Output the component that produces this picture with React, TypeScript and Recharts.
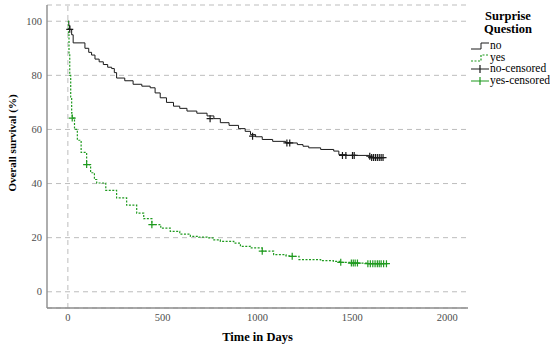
import React from 'react';
import { ComposedChart, Line, Scatter, XAxis, YAxis, CartesianGrid, ReferenceLine } from 'recharts';

// Kaplan-Meier curves (day, survival %)
const noDays = [0, 5, 10, 20, 28, 75, 90, 110, 125, 143, 165, 187, 210, 231, 245, 257, 300, 344, 390, 434, 460, 487, 520, 557, 590, 628, 680, 734, 770, 804, 850, 900, 935, 963, 990, 1025, 1080, 1148, 1210, 1240, 1270, 1333, 1402, 1429, 1470, 1587, 1600, 1667];
const noSurvival = [100, 98.5, 97, 95, 92, 92, 90, 88.5, 87.5, 86, 85, 84, 83, 82.5, 81, 79, 78, 76.7, 76, 75.4, 73.5, 71.7, 70, 68.6, 67.8, 66.8, 66, 65, 64, 62.5, 61.5, 60.3, 59.3, 58.1, 57.3, 56.3, 55.6, 55, 54.4, 53.8, 53.2, 52.6, 52, 50.7, 50.4, 50.1, 49.6, 49.6];

const yesDays = [0, 3, 6, 10, 15, 20, 23, 35, 50, 70, 99, 120, 140, 152, 200, 257, 310, 363, 400, 443, 490, 540, 590, 646, 690, 734, 770, 804, 875, 910, 963, 1025, 1085, 1150, 1183, 1219, 1333, 1400, 1439, 1492, 1580, 1693];
const yesSurvival = [100, 95, 88, 80, 72, 66, 64.2, 60, 56, 51.5, 47, 44, 41.5, 40.2, 37.5, 34.7, 32, 29.1, 27, 24.8, 23.5, 22.3, 21.3, 20.5, 20.2, 19.9, 19.2, 18.6, 18, 16.8, 16.2, 15, 13.7, 13.3, 13.1, 11.9, 11.5, 11.2, 10.9, 10.6, 10.4, 10.4];

const noCensorDays = [10, 750, 974, 1155, 1170, 1448, 1466, 1501, 1510, 1592, 1602, 1612, 1622, 1632, 1642, 1652, 1662];
const noCensorSurvival = [97, 64, 57.5, 55, 55, 50.4, 50.4, 50.4, 50.4, 50.1, 49.6, 49.6, 49.6, 49.6, 49.6, 49.6, 49.6];

const yesCensorDays = [23, 99, 443, 1025, 1183, 1439, 1495, 1505, 1515, 1527, 1582, 1595, 1608, 1620, 1632, 1642, 1652, 1665, 1680];
const yesCensorSurvival = [64.2, 47, 24.8, 15, 13.1, 10.9, 10.6, 10.6, 10.6, 10.6, 10.4, 10.4, 10.4, 10.4, 10.4, 10.4, 10.4, 10.4, 10.4];

const xTicks = [0, 500, 1000, 1500, 2000];
const yTicks = [0, 20, 40, 60, 80, 100];

const legendLabels = ['no', 'yes', 'no-censored', 'yes-censored'];

const BLACK = '#1a1a1a';
const GREEN = '#1f9a1f';
const FONT = "'Liberation Serif', 'Times New Roman', serif";

const toPoints = (days: number[], vals: number[]) => days.map((d, i) => ({ day: d, s: vals[i] }));

const noData = toPoints(noDays, noSurvival);
const yesData = toPoints(yesDays, yesSurvival);
const noCensored = toPoints(noCensorDays, noCensorSurvival);
const yesCensored = toPoints(yesCensorDays, yesCensorSurvival);

const plus = (color: string) => (props: any) => {
  const { cx, cy } = props;
  return <path d={`M${cx - 3.5},${cy}h7M${cx},${cy - 3.5}v7`} stroke={color} strokeWidth={1.2} fill="none" />;
};

const LegendIcon = ({ idx }: { idx: number }) => {
  if (idx === 0)
    return (
      <svg width={20} height={10}>
        <path d="M1,8H11V2H19" stroke={BLACK} strokeWidth={1} fill="none" />
      </svg>
    );
  if (idx === 1)
    return (
      <svg width={20} height={10}>
        <path d="M1,8H11V2H19" stroke={GREEN} strokeWidth={1.2} strokeDasharray="2 1.5" fill="none" />
      </svg>
    );
  const c = idx === 2 ? BLACK : GREEN;
  return (
    <svg width={20} height={10}>
      <path d="M1,5H19M10,1V9" stroke={c} strokeWidth={1.2} fill="none" />
    </svg>
  );
};

const YTitle = () => (
  <text
    transform="translate(12,143) rotate(-90)"
    textAnchor="middle"
    dominantBaseline="central"
    fontWeight="bold"
    fontSize={11}
    fill="#000"
    fontFamily={FONT}
  >
    Overall survival (%)
  </text>
);

const App: React.FC = () => {
  return (
    <div style={{ position: 'relative', width: 550, height: 348, fontFamily: FONT }}>
      <style>{'body{margin:0}'}</style>
      <ComposedChart width={550} height={348} margin={{ top: 5, right: 82, bottom: 0, left: 0 }}>
        <CartesianGrid vertical={false} stroke="#bdbdbd" strokeDasharray="5 4" />
        <XAxis
          dataKey="day"
          type="number"
          domain={[-110, 2110]}
          ticks={xTicks}
          height={40}
          axisLine={{ stroke: '#8c8c8c', strokeWidth: 1.4 }}
          tickLine={false}
          tickSize={0}
          tickMargin={6}
          tick={{ fontSize: 10.5, fill: '#4d4d4d', fontFamily: FONT }}
          label={{ value: 'Time in Days', position: 'insideBottom', offset: 7, style: { fontWeight: 'bold', fontSize: 12.5, fill: '#000', fontFamily: FONT } }}
        />
        <YAxis
          dataKey="s"
          type="number"
          domain={[-6, 106]}
          ticks={yTicks}
          width={47}
          axisLine={{ stroke: '#8c8c8c', strokeWidth: 1.4 }}
          tickLine={false}
          tickSize={0}
          tickMargin={5}
          tick={{ fontSize: 10.5, fill: '#4d4d4d', fontFamily: FONT }}
          label={{ content: () => <YTitle /> }}
        />
        <ReferenceLine x={0} stroke="#bdbdbd" strokeDasharray="5 4" />
        <Line data={noData} dataKey="s" type="stepAfter" stroke={BLACK} strokeWidth={1} dot={false} isAnimationActive={false} name="no" />
        <Line data={yesData} dataKey="s" type="stepAfter" stroke={GREEN} strokeWidth={1.2} strokeDasharray="2 1.5" dot={false} isAnimationActive={false} name="yes" />
        <Scatter data={noCensored} dataKey="s" shape={plus(BLACK)} isAnimationActive={false} name="no-censored" />
        <Scatter data={yesCensored} dataKey="s" shape={plus(GREEN)} isAnimationActive={false} name="yes-censored" />
      </ComposedChart>
      <div style={{ position: 'absolute', left: 466, top: 10, width: 84, fontSize: 11.5, color: '#000' }}>
        <div style={{ textAlign: 'center', fontWeight: 'bold', fontSize: 12.5, lineHeight: '13px' }}>
          Surprise
          <br />
          Question
        </div>
        <div style={{ marginTop: 4, marginLeft: 4 }}>
          {legendLabels.map((l, i) => (
            <div key={l} style={{ display: 'flex', alignItems: 'center', height: 11.7, lineHeight: '11.7px', whiteSpace: 'nowrap' }}>
              <LegendIcon idx={i} />
              <span>{l}</span>
            </div>
          ))}
        </div>
      </div>
    </div>
  );
};

export default App;
